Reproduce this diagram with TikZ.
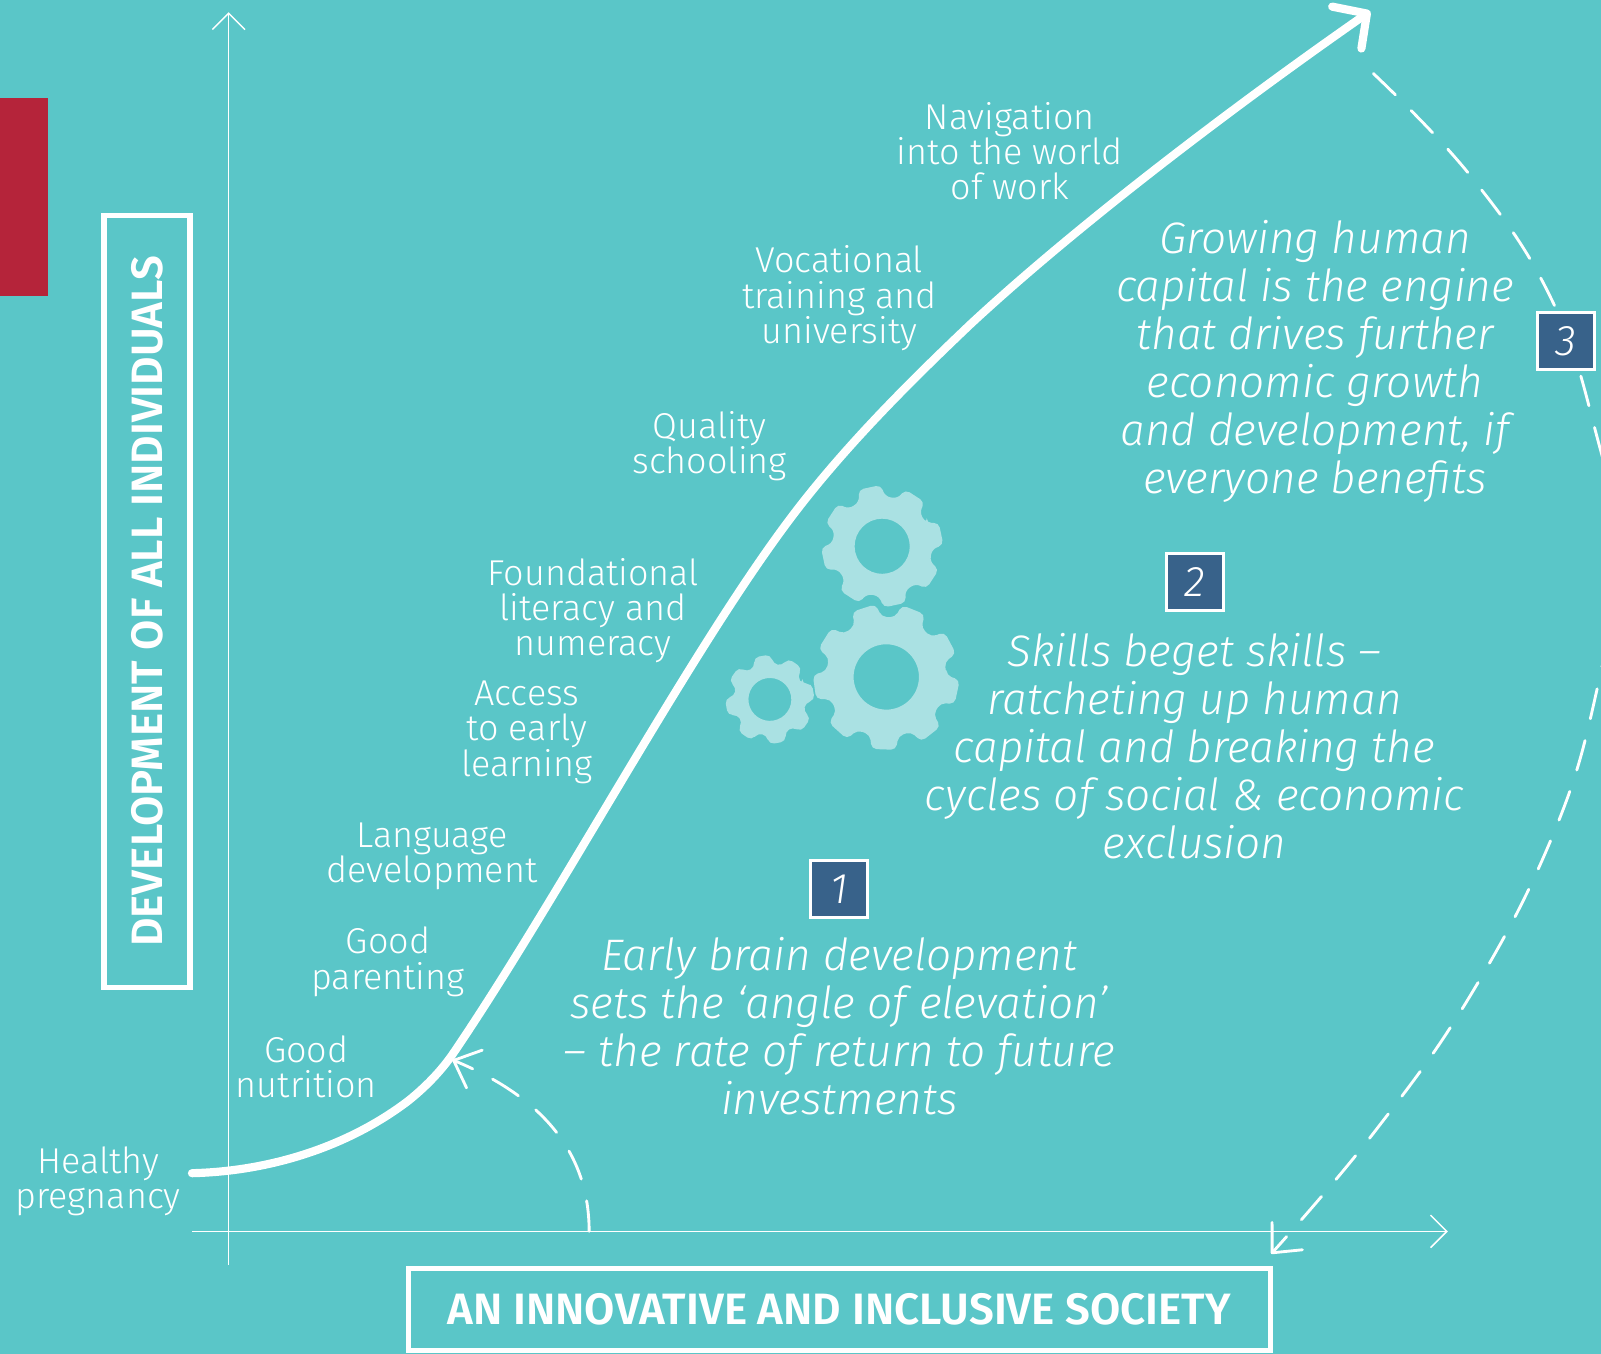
\documentclass[tikz,border=0pt]{standalone}
\usepackage{fontspec}
\setmainfont{Fira Sans Light}[ItalicFont={Fira Sans Light Italic},BoldFont={Fira Sans SemiBold}]
\usetikzlibrary{arrows.meta}
\definecolor{tealbg}{RGB}{90,198,200}
\definecolor{gearcol}{RGB}{170,225,227}
\definecolor{numbox}{RGB}{56,98,138}
\definecolor{redtab}{RGB}{181,36,58}
\tikzset{
    stagetext/.style={text=white,align=center,font=\fontsize{17.6}{17.3}\selectfont,inner sep=0pt},
    notetext/.style={text=white,align=center,font=\fontsize{21.6}{23.5}\selectfont\itshape,inner sep=0pt},
    numberbox/.style={draw=white,line width=1.5pt,fill=numbox,text=white,minimum size=28pt,inner sep=0pt,font=\fontsize{21}{24}\selectfont\itshape},
    titlebox/.style={draw=white,line width=2.6pt,text=white,inner sep=0pt,font=\fontsize{21.5}{24}\selectfont\bfseries},
    axisline/.style={draw=white,line width=0.7pt,-{Straight Barb[length=8pt,width=16pt,line width=0.7pt]}},
    dashcurve/.style={draw=white,line width=1.4pt,line cap=round,dash pattern=on 15pt off 11pt,-{Straight Barb[length=11pt,width=20pt,line width=1.4pt,round]}},
    growcurve/.style={draw=white,line width=4pt,line cap=round,line join=round,-{Straight Barb[length=12pt,width=25pt,line width=4pt,round]}},
}
% one gear: centre, tip radius, root radius, hole radius, teeth, turn
\newcommand{\geartooth}[6]{
    \begin{scope}[shift={(#1)},rotate=#6]
        \pgfmathsetmacro{\toothstep}{360/#5}
        \fill[gearcol,even odd rule,rounded corners=2.5pt] (-0.34*\toothstep:#3)
            \foreach \k in {1,...,#5} {
                -- ({\k*\toothstep-\toothstep-0.34*\toothstep}:#3)
                -- ({\k*\toothstep-\toothstep-0.24*\toothstep}:#2)
                -- ({\k*\toothstep-\toothstep+0.24*\toothstep}:#2)
                -- ({\k*\toothstep-\toothstep+0.34*\toothstep}:#3)
            } -- cycle (0,0) circle [radius=#4];
    \end{scope}
}
\begin{document}
\begin{tikzpicture}[x=0.5pt,y=-0.5pt]
    \useasboundingbox (0,0) rectangle (1568,1326);
    \fill[tealbg] (0,0) rectangle (1568,1326);
    \fill[redtab] (0,96) rectangle (47,290);

    %axes
    \coordinate (ytop) at (224,12);
    \coordinate (ybot) at (224,1239);
    \coordinate (xleft) at (188,1206);
    \coordinate (xright) at (1418,1206);
    \draw[axisline] (ybot) -- (ytop);
    \draw[axisline] (xleft) -- (xright);

    %boxes on the axes
    \node[titlebox,minimum width=422pt,minimum height=40pt] (xtitle) at (822,1282.5) {AN INNOVATIVE AND INCLUSIVE SOCIETY};
    \node[titlebox,minimum width=378pt,minimum height=42pt,rotate=90] (ytitle) at (144,589) {DEVELOPMENT OF ALL INDIVIDUALS};

    %dashed curves
    \coordinate (arcfoot) at (577,1206);
    \coordinate (arctip) at (443,1038);
    \coordinate (bigstart) at (1345,72);
    \coordinate (bigtip) at (1245,1228);
    \draw[dashcurve] (arcfoot) .. controls (577,1120) and (520,1070) .. (arctip);
    \draw[dashcurve] plot [smooth,tension=0.7] coordinates {(bigstart) (1440,172) (1518,290) (1562,420) (1583,540) (1563,680) (1520,820) (1440,975) (1345,1110) (bigtip)};

    %growth curve
    \coordinate (growstart) at (188,1149);
    \coordinate (growtip) at (1342,11);
    \draw[growcurve] (growstart) .. controls (270,1147) and (345,1120) .. (400,1078) .. controls (420,1062) and (435,1045) .. (445,1030) .. controls (550,875) and (680,630) .. (780,500) .. controls (830,435) and (890,375) .. (950,318) .. controls (1050,225) and (1200,110) .. (growtip);

    %gears
    \geartooth{864,535}{60}{49}{27}{8}{12}
    \geartooth{868,663}{72}{59}{32}{9}{-12}
    \geartooth{754,685}{44}{35}{21}{8}{10}

    %stages
    \node[stagetext] (pregnancy) at (96,1157) {Healthy\\pregnancy};
    \node[stagetext] (nutrition) at (300,1045) {Good\\nutrition};
    \node[stagetext] (parenting) at (380,942) {Good\\parenting};
    \node[stagetext] (language) at (423,839) {Language\\development};
    \node[stagetext] (access) at (516,717) {Access\\to early\\learning};
    \node[stagetext] (literacy) at (581,598) {Foundational\\literacy and\\numeracy};
    \node[stagetext] (quality) at (695,437) {Quality\\schooling};
    \node[stagetext] (vocational) at (822,292) {Vocational\\training and\\university};
    \node[stagetext] (navigation) at (989,148) {Navigation\\into the world\\of work};

    %numbered notes
    \node[numberbox] (one) at (822,871) {1};
    \node[notetext] (noteone) at (822,1005) {Early brain development\\sets the ‘angle of elevation’\\– the rate of return to future\\investments};
    \node[numberbox] (two) at (1170,570) {2};
    \node[notetext] (notetwo) at (1170,731) {Skills beget skills –\\ratcheting up human\\capital and breaking the\\cycles of social \& economic\\exclusion};
    \node[numberbox] (three) at (1534,334) {3};
    \node[notetext] (notethree) at (1288,354) {Growing human\\capital is the engine\\that drives further\\economic growth\\and development, if\\everyone benefits};
\end{tikzpicture}
\end{document}
